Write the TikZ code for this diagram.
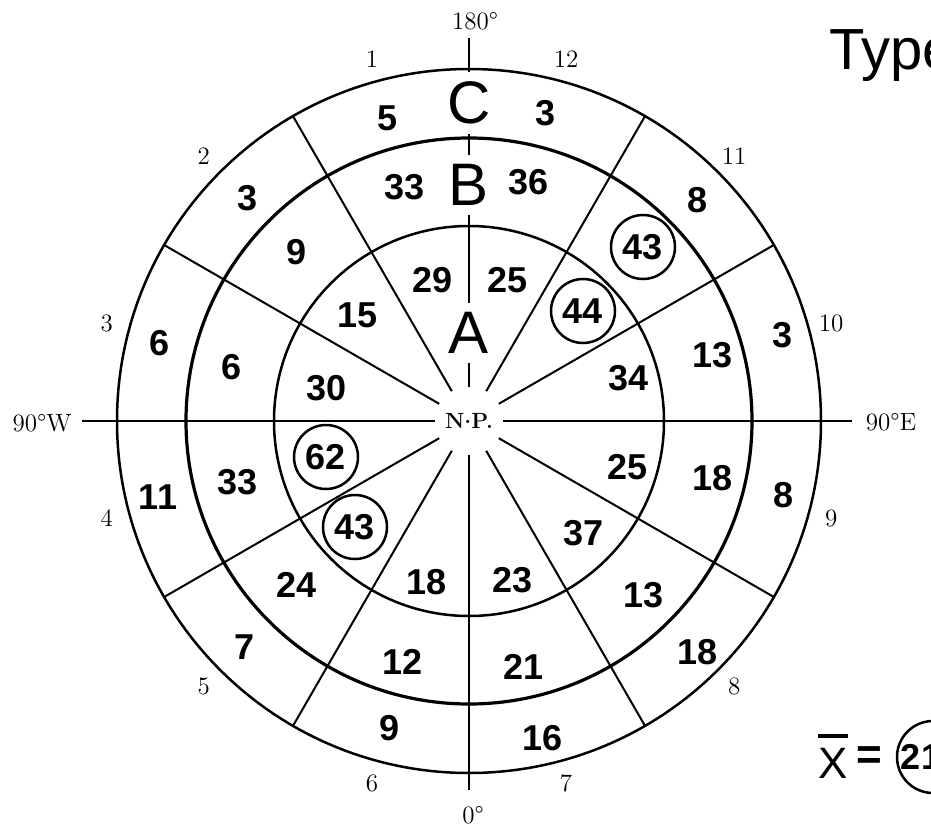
\documentclass[tikz,border=0pt]{standalone}
\usepackage{fontspec}
\setsansfont{Liberation Sans}
\usetikzlibrary{positioning}
\tikzset{
  polar/ring/.style={line width=1.25pt},
  polar/thickring/.style={line width=1.6pt},
  polar/spoke/.style={line width=1pt},
  polar/cell/.style={font=\sffamily\bfseries\fontsize{18}{18}\selectfont, inner sep=1pt},
  polar/marked/.style={polar/cell, draw, circle, line width=1.25pt, minimum size=32pt, inner sep=0pt},
  polar/zone/.style={font=\sffamily\fontsize{30}{30}\selectfont, inner sep=4.5pt},
  polar/hand/.style={font=\fontsize{12.5}{12.5}\selectfont, inner sep=1pt},
  polar/pole/.style={circle, minimum size=34pt, inner sep=0pt, font=\bfseries\fontsize{11}{11}\selectfont}
}
\newcommand{\meanbar}{\leavevmode\rlap{\raisebox{\dimexpr\fontcharht\font`X+5pt\relax}{\rule{\fontcharwd\font`X}{2pt}}}X}

\begin{document}
\begin{tikzpicture}[x=0.5pt, y=0.5pt]
\clip (-469,-414) rectangle (462,421);
% rings A, B, C
\draw[polar/ring] (0,0) circle (195);
\draw[polar/thickring] (0,0) circle (283);
\draw[polar/ring] (0,0) circle (352);
% pole and zone letters
\node[polar/pole] (np) at (0,0) {N\raisebox{2.5pt}{.}P.};
\node[polar/zone] (A) at (0,88) {A};
\node[polar/zone] (B) at (0,236) {B};
\node[polar/zone] (C) at (0,318) {C};
\coordinate (north) at (0,383);
\coordinate (south) at (0,-369);
\coordinate (west) at (-387,0);
\coordinate (east) at (383,0);
\draw[polar/spoke] (np) -- (A);
\draw[polar/spoke] (A) -- (B);
\draw[polar/spoke] (B) -- (C);
\draw[polar/spoke] (C) -- (north);
\draw[polar/spoke] (np) -- (south);
\draw[polar/spoke] (np) -- (west);
\draw[polar/spoke] (np) -- (east);
\foreach \a in {30,60,120,150,210,240,300,330}
  \draw[polar/spoke] (np) -- (\a:352);
% meridian labels
\node[polar/hand] (m180) at (6,400) {180\textdegree};
\node[polar/hand] (m0) at (4,-394) {0\textdegree};
\node[polar/hand] (mw) at (-427,-2) {90\textdegree W};
\node[polar/hand] (me) at (422,-1) {90\textdegree E};
\foreach \k in {1,...,12}
  \node[polar/hand] (s\k) at ({105+30*(\k-1)}:375) {\k};
% counts per cell
\foreach \p/\q/\v/\n/\s in {
  -81/303/5/c1/cell, -64/234/33/b1/cell, -36/141/29/a1/cell,
  -221/223/3/c2/cell, -172/169/9/b2/cell, -111/106/15/a2/cell,
  -309/78/6/c3/cell, -237/54/6/b3/cell, -142/33/30/a3/cell,
  -311/-76/11/c4/cell, -231/-61/33/b4/cell, -143/-36/62/a4/marked,
  -224/-226/7/c5/cell, -172/-164/24/b5/cell, -114/-106/43/a5/marked,
  -79/-307/9/c6/cell, -66/-241/12/b6/cell, -42/-161/18/a6/cell,
  74/-317/16/c7/cell, 55/-246/21/b7/cell, 44/-159/23/a7/cell,
  229/-231/18/c8/cell, 175/-174/13/b8/cell, 115/-112/37/a8/cell,
  315/-74/8/c9/cell, 244/-57/18/b9/cell, 159/-46/25/a9/cell,
  314/86/3/c10/cell, 244/66/13/b10/cell, 160/43/34/a10/cell,
  229/221/8/c11/cell, 174/174/43/b11/marked, 114/110/44/a11/marked,
  77/308/3/c12/cell, 60/239/36/b12/cell, 39/141/25/a12/cell}
  \node[polar/\s] (\n) at (\p,\q) {\v};
% title and mean
\node[anchor=base west, inner sep=0pt, font=\sffamily\fontsize{29}{29}\selectfont] (title) at (360,351) {Type};
\node[font=\sffamily\fontsize{22}{22}\selectfont, inner sep=0pt] (xbar) at (364,-335) {\meanbar};
\node[font=\sffamily\bfseries\fontsize{22}{22}\selectfont, inner sep=0pt] (eq) at (400,-337) {=};
\node[polar/marked, minimum size=36pt] (mean) at (464,-336) {21\kern12pt};
\end{tikzpicture}
\end{document}
